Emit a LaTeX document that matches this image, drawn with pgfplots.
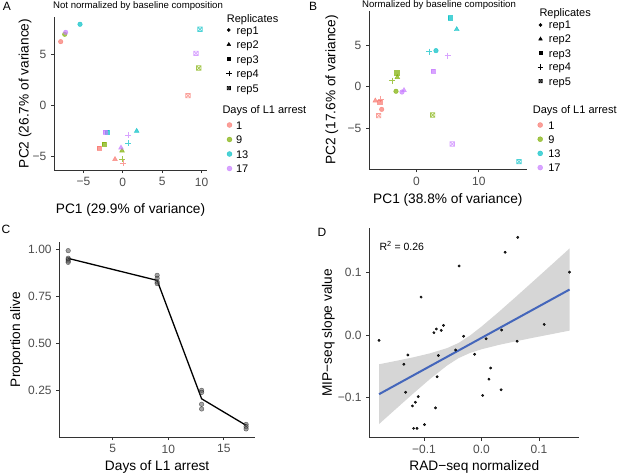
\documentclass[border=0pt]{standalone}
\usepackage{fontspec}
\setmainfont{Liberation Sans}
\usepackage{pgfplots}
\pgfplotsset{compat=1.18}
\usetikzlibrary{plotmarks}

\definecolor{cR}{HTML}{F8766D}
\definecolor{cG}{HTML}{7CAE00}
\definecolor{cC}{HTML}{00BFC4}
\definecolor{cP}{HTML}{C77CFF}
\definecolor{ticktext}{HTML}{4D4D4D}
\definecolor{smoothline}{HTML}{4466BB}
\definecolor{bandfill}{HTML}{D6D6D6}

\pgfdeclareplotmark{sqx}{%
  \pgfpathrectangle{\pgfqpoint{-\pgfplotmarksize}{-\pgfplotmarksize}}{\pgfqpoint{2\pgfplotmarksize}{2\pgfplotmarksize}}%
  \pgfpathmoveto{\pgfqpoint{-\pgfplotmarksize}{-\pgfplotmarksize}}%
  \pgfpathlineto{\pgfqpoint{\pgfplotmarksize}{\pgfplotmarksize}}%
  \pgfpathmoveto{\pgfqpoint{-\pgfplotmarksize}{\pgfplotmarksize}}%
  \pgfpathlineto{\pgfqpoint{\pgfplotmarksize}{-\pgfplotmarksize}}%
  \pgfusepathqstroke}

\pgfplotsset{
  ggaxis/.style={
    scale only axis, anchor=south west,
    axis x line*=bottom, axis y line*=left,
    axis line style={black!80, line width=0.9pt, -},
    tick align=outside,
    major tick length=3pt,
    tick style={black!80, line width=0.9pt},
    every tick label/.append style={font=\fontsize{12}{14}\selectfont, text=ticktext},
    xticklabel style={inner sep=0pt, anchor=north, yshift=-4.5pt},
    yticklabel style={inner sep=0pt, anchor=east, xshift=-4.5pt},
    label style={font=\fontsize{13.7}{16}\selectfont},
    scaled ticks=false,
    clip=false,
  },
  gg4/.style={scatter, only marks, scatter src=explicit symbolic,
    scatter/classes={
      d1={draw=cR, fill=cR, opacity=0.7},
      d9={draw=cG, fill=cG, opacity=0.7},
      d13={draw=cC, fill=cC, opacity=0.7},
      d17={draw=cP, fill=cP, opacity=0.7}}},
  legfull/.style={at={(0pt,0pt)}, anchor=south west, scale only axis,
    width=617pt, height=475pt, xmin=0, xmax=617, ymin=0, ymax=475, hide axis,
    legend cell align=left,
    legend image code/.code={\draw[##1] plot coordinates {(0pt,0pt)};}},
  legst/.style={legend style={draw=none, fill=none, inner sep=0pt, outer sep=0pt,
    anchor=north west, font=\fontsize{11}{13}\selectfont,
    nodes={inner sep=0pt, text height=8pt, text depth=0pt}}},
}

\begin{document}
\begin{tikzpicture}
\useasboundingbox (0,0) rectangle (617pt,475pt);

% ---------------- Panel A ----------------
\begin{axis}[ggaxis, at={(54pt,305pt)}, width=153pt, height=153pt,
  xmin=-8.73, xmax=10.68, ymin=-6.28, ymax=8.68,
  xtick={-5,0,5,10}, xticklabels={−5,0,5,10},
  ytick={-5,0,5}, yticklabels={−5,0,5},
  xlabel={PC1 (29.9\% of variance)}, ylabel={PC2 (26.7\% of variance)},
  x label style={at={(axis description cs:0.5,-0.2614)}, anchor=center},
  y label style={at={(axis description cs:-0.1895,0.5)}, anchor=center}]
\addplot[gg4, mark=*, mark size=2.3pt] table[meta=d] {
x y d
-7.88 6.27 d1
-7.37 6.99 d9
-5.43 7.97 d13
-7.25 7.18 d17
};
\addplot[gg4, mark=triangle*, mark size=2.8pt] table[meta=d] {
x y d
-0.99 -5.23 d1
-0.10 -4.39 d9
1.76 -2.47 d13
-0.23 -4.10 d17
};
\addplot[gg4, mark=square*, mark size=2.1pt] table[meta=d] {
x y d
-3.02 -4.16 d1
-2.35 -3.74 d9
-1.97 -2.59 d13
-2.22 -2.59 d17
};
\addplot[gg4, mark=+, mark size=3pt, mark options={line width=0.8pt}] table[meta=d] {
x y d
0.02 -5.63 d1
-0.10 -5.23 d9
0.70 -3.67 d13
0.66 -2.89 d17
};
\addplot[gg4, mark=sqx, mark size=2.2pt, mark options={line width=0.7pt}] table[meta=d] {
x y d
8.27 0.99 d1
9.63 3.69 d9
9.79 7.48 d13
9.28 5.13 d17
};
\end{axis}

% ---------------- Panel B ----------------
\begin{axis}[ggaxis, at={(369pt,305.7pt)}, width=157.7pt, height=158.7pt,
  xmin=-7.59, xmax=17.65, ymin=-9.92, ymax=9.14,
  xtick={0,10}, xticklabels={0,10},
  ytick={-5,0,5}, yticklabels={−5,0,5},
  xlabel={PC1 (38.8\% of variance)}, ylabel={PC2 (17.6\% of variance)},
  x label style={at={(axis description cs:0.5,-0.1934)}, anchor=center},
  y label style={at={(axis description cs:-0.2365,0.5)}, anchor=center}]
\addplot[gg4, mark=*, mark size=2.3pt] table[meta=d] {
x y d
-5.56 -2.72 d1
-3.27 -0.55 d9
3.13 4.33 d13
-2.31 -0.64 d17
};
\addplot[gg4, mark=triangle*, mark size=2.8pt] table[meta=d] {
x y d
-6.58 -1.68 d1
-3.06 1.13 d9
6.45 6.89 d13
-1.99 -0.43 d17
};
\addplot[gg4, mark=square*, mark size=2.1pt] table[meta=d] {
x y d
-5.88 -1.88 d1
-3.16 1.69 d9
5.43 8.29 d13
2.70 1.85 d17
};
\addplot[gg4, mark=+, mark size=3pt, mark options={line width=0.8pt}] table[meta=d] {
x y d
-5.72 -1.47 d1
-3.91 0.73 d9
2.06 4.21 d13
5.00 3.73 d17
};
\addplot[gg4, mark=sqx, mark size=2.2pt, mark options={line width=0.7pt}] table[meta=d] {
x y d
-6.04 -3.48 d1
2.60 -3.40 d9
16.42 -9.00 d13
5.74 -6.88 d17
};
\end{axis}

% ---------------- Panel C ----------------
\begin{axis}[ggaxis, at={(59.3pt,38pt)}, width=195.7pt, height=195pt,
  xmin=0.2, xmax=17.8, ymin=0.004, ymax=1.04,
  xtick={5,10,15}, xticklabels={5,10,15},
  ytick={0.25,0.5,0.75,1}, yticklabels={0.25,0.50,0.75,1.00},
  xlabel={Days of L1 arrest}, ylabel={Proportion alive},
  x label style={at={(axis description cs:0.5,-0.152)}, anchor=center},
  y label style={at={(axis description cs:-0.2177,0.5)}, anchor=center}]
\addplot[only marks, mark=*, mark size=2.3pt, mark options={draw=none, fill=black!65, opacity=0.55}] table {
x y
1 0.994
1 0.954
1 0.948
1 0.939
1 0.932
9 0.863
9 0.847
9 0.828
9 0.819
13 0.252
13 0.241
13 0.178
13 0.153
17 0.071
17 0.059
17 0.047
};
\addplot[black, line width=1.3pt, no marks] table {
x y
1 0.953
9 0.836
13 0.207
17 0.066
};
\end{axis}

% ---------------- Panel D ----------------
\begin{axis}[ggaxis, at={(369.3pt,37.3pt)}, width=210pt, height=209.7pt,
  xmin=-0.195, xmax=0.170, ymin=-0.165, ymax=0.172,
  xtick={-0.1,0,0.1}, xticklabels={−0.1,0.0,0.1},
  ytick={-0.1,0,0.1}, yticklabels={−0.1,0.0,0.1},
  xlabel={RAD−seq normalized}, ylabel={MIP−seq slope value},
  x label style={at={(axis description cs:0.5,-0.138)}, anchor=center},
  y label style={at={(axis description cs:-0.195,0.5)}, anchor=center}]
\addplot[fill=bandfill, draw=none] coordinates {
(-0.178,-0.143) (-0.15,-0.1198) (-0.12,-0.0951) (-0.09,-0.0711) (-0.06,-0.0491)
(-0.04,-0.0372) (-0.02,-0.0288) (0,-0.0229) (0.03,-0.0159) (0.06,-0.0100)
(0.09,-0.0043) (0.12,0.0011) (0.153,0.0071)
(0.153,0.1391) (0.12,0.1115) (0.09,0.0865) (0.06,0.0616) (0.03,0.0371)
(0,0.0136) (-0.02,-0.0008) (-0.04,-0.0128) (-0.06,-0.0211) (-0.09,-0.0295)
(-0.12,-0.0361) (-0.15,-0.0418) (-0.178,-0.047)} -- cycle;
\addplot[smoothline, line width=2pt, no marks] coordinates {(-0.178,-0.095) (0.153,0.0731)};
\addplot[only marks, mark=*, mark size=1.2pt, mark options={draw=none, fill=black!85}] table {
x y
-0.178 -0.0086
0.063 0.157
0.041 0.133
-0.039 0.111
0.153 0.101
-0.105 0.061
-0.066 0.0156
-0.0786 0.0097
-0.070 0.0075
-0.0827 0.0038
-0.031 -0.002
0.008 -0.006
0.035 0.008
0.109 0.017
0.062 -0.010
-0.045 -0.024
-0.128 -0.032
-0.075 -0.033
-0.012 -0.031
-0.135 -0.047
0.016 -0.053
-0.077 -0.067
0.013 -0.071
0.034 -0.088
-0.132 -0.092
0.002 -0.097
-0.110 -0.099
-0.115 -0.108
-0.120 -0.114
-0.080 -0.117
-0.099 -0.144
-0.118 -0.150
-0.112 -0.150
};
\end{axis}

% ---------------- Legends ----------------
\begin{axis}[legfull, legst, legend style={at={(226/617,449/475)}, row sep=6.5pt, column sep=5pt}]
\addlegendimage{only marks, mark=*, mark size=1.6pt, black}
\addlegendentry{rep1}
\addlegendimage{only marks, mark=triangle*, mark size=2.1pt, black}
\addlegendentry{rep2}
\addlegendimage{only marks, mark=square*, mark size=1.5pt, black}
\addlegendentry{rep3}
\addlegendimage{only marks, mark=+, mark size=2.8pt, black, mark options={line width=0.6pt}}
\addlegendentry{rep4}
\addlegendimage{only marks, mark=sqx, mark size=1.7pt, black, mark options={line width=0.6pt}}
\addlegendentry{rep5}
\end{axis}
\begin{axis}[legfull, legst, legend style={at={(227/617,354/475)}, row sep=6.5pt, column sep=4pt}]
\addlegendimage{only marks, mark=*, mark size=2.5pt, cR, mark options={opacity=0.7}}
\addlegendentry{1}
\addlegendimage{only marks, mark=*, mark size=2.5pt, cG, mark options={opacity=0.7}}
\addlegendentry{9}
\addlegendimage{only marks, mark=*, mark size=2.5pt, cC, mark options={opacity=0.7}}
\addlegendentry{13}
\addlegendimage{only marks, mark=*, mark size=2.5pt, cP, mark options={opacity=0.7}}
\addlegendentry{17}
\end{axis}
\begin{axis}[legfull, legst, legend style={at={(537.7/617,454/475)}, row sep=6pt, column sep=5.6pt}]
\addlegendimage{only marks, mark=*, mark size=1.6pt, black}
\addlegendentry{rep1}
\addlegendimage{only marks, mark=triangle*, mark size=2.1pt, black}
\addlegendentry{rep2}
\addlegendimage{only marks, mark=square*, mark size=1.5pt, black}
\addlegendentry{rep3}
\addlegendimage{only marks, mark=+, mark size=2.8pt, black, mark options={line width=0.6pt}}
\addlegendentry{rep4}
\addlegendimage{only marks, mark=sqx, mark size=1.7pt, black, mark options={line width=0.6pt}}
\addlegendentry{rep5}
\end{axis}
\begin{axis}[legfull, legst, legend style={at={(537.7/617,354/475)}, row sep=6.2pt, column sep=5.6pt}]
\addlegendimage{only marks, mark=*, mark size=2.5pt, cR, mark options={opacity=0.7}}
\addlegendentry{1}
\addlegendimage{only marks, mark=*, mark size=2.5pt, cG, mark options={opacity=0.7}}
\addlegendentry{9}
\addlegendimage{only marks, mark=*, mark size=2.5pt, cC, mark options={opacity=0.7}}
\addlegendentry{13}
\addlegendimage{only marks, mark=*, mark size=2.5pt, cP, mark options={opacity=0.7}}
\addlegendentry{17}
\end{axis}

% ---------------- Texts ----------------
\begin{scope}[every node/.style={inner sep=0pt}]
\node[anchor=center, font=\fontsize{12}{14}\selectfont] at (7pt,469pt) {A};
\node[anchor=center, font=\fontsize{12}{14}\selectfont] at (313pt,469pt) {B};
\node[anchor=center, font=\fontsize{12}{14}\selectfont] at (6pt,245.7pt) {C};
\node[anchor=center, font=\fontsize{12}{14}\selectfont] at (322pt,242.7pt) {D};
\node[anchor=west, font=\fontsize{9.6}{11}\selectfont] at (53pt,469pt) {Not normalized by baseline composition};
\node[anchor=west, font=\fontsize{9.6}{11}\selectfont] at (362pt,470.3pt) {Normalized by baseline composition};
\node[anchor=base west, font=\fontsize{11}{13}\selectfont] at (226.7pt,452.5pt) {Replicates};
\node[anchor=base west, font=\fontsize{11}{13}\selectfont] at (222.3pt,362pt) {Days of L1 arrest};
\node[anchor=base west, font=\fontsize{11}{13}\selectfont] at (539.3pt,458pt) {Replicates};
\node[anchor=base west, font=\fontsize{11}{13}\selectfont] at (532.7pt,361.5pt) {Days of L1 arrest};
\node[anchor=west, font=\fontsize{10.5}{12}\selectfont] at (379.3pt,229.3pt) {R\textsuperscript{2} = 0.26};
\end{scope}
\end{tikzpicture}
\end{document}
